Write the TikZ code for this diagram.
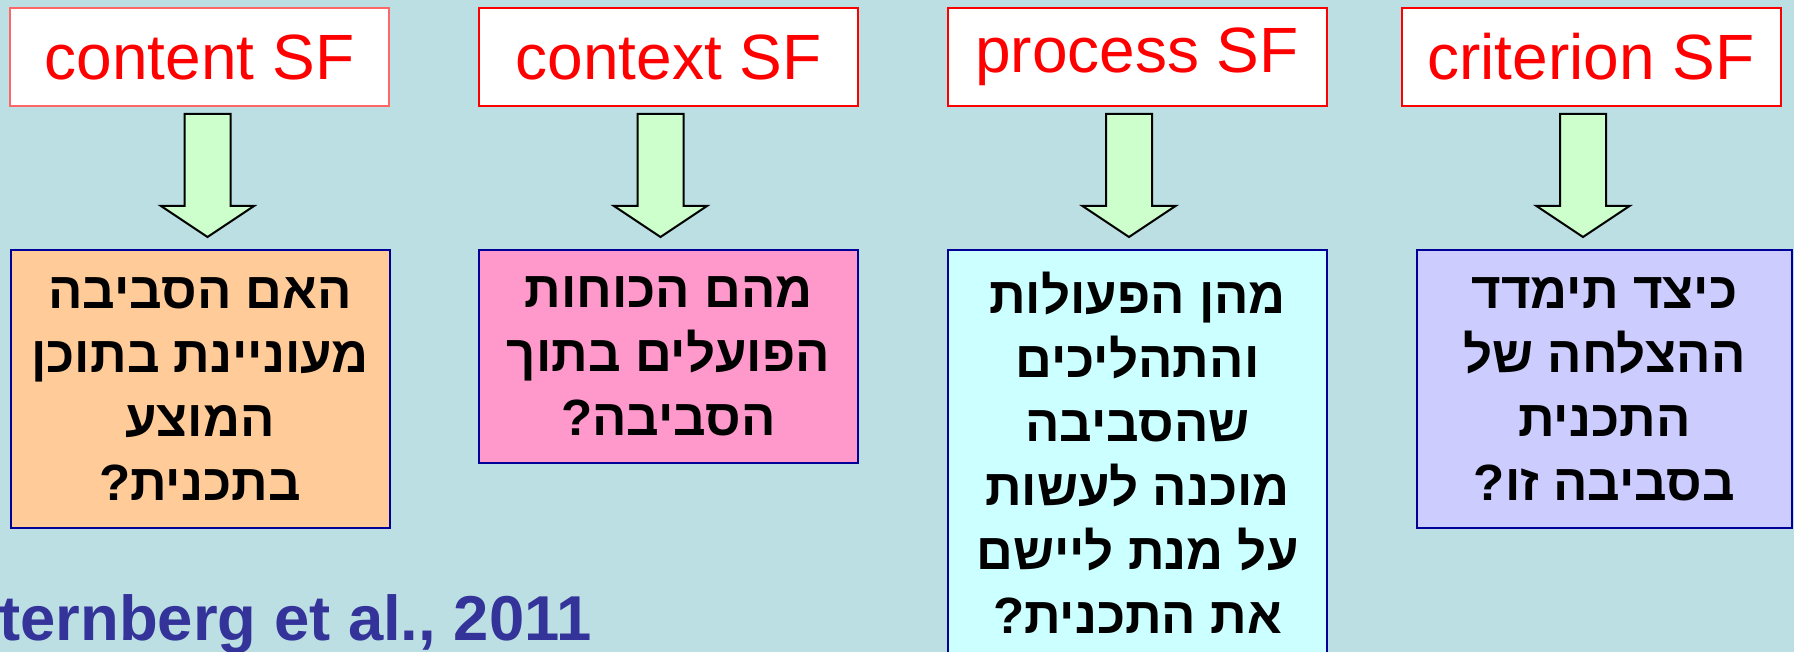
\documentclass[tikz,border=0pt]{standalone}
\usepackage{fontspec}
\setmainfont{Liberation Sans}
\newfontfamily\hebfont[Script=Hebrew]{Liberation Sans}
\TeXXeTstate=1
\usetikzlibrary{calc}
\definecolor{bgblue}{RGB}{187,223,226}
\definecolor{qblue}{RGB}{0,0,153}
\definecolor{qorange}{RGB}{255,204,153}
\definecolor{qpink}{RGB}{255,153,204}
\definecolor{qcyan}{RGB}{204,255,255}
\definecolor{qlilac}{RGB}{204,204,255}
\definecolor{arrowgreen}{RGB}{204,255,204}
\definecolor{citeblue}{RGB}{51,51,153}
\begin{document}
\begin{tikzpicture}[x=0.5pt,y=-0.5pt,
	sfbox/.style={draw=red,line width=1pt,fill=white,text=red,minimum width=189.5pt,minimum height=49pt,inner sep=0pt,font=\fontsize{32pt}{38pt}\selectfont},
	qbox/.style={draw=qblue,line width=1pt,inner sep=0pt,align=center,minimum width=189.5pt,font=\hebfont\bfseries\fontsize{25.5pt}{32pt}\selectfont},
	sfarrow/.style={draw=black,line width=1pt,fill=arrowgreen,line join=miter}]
	\useasboundingbox (0,0) rectangle (1794,652);
	\fill[bgblue] (0,0) rectangle (1794,652);
	\node[sfbox,draw=red!60] (c1) at (199.5,57) {content SF};
	\node[sfbox] (c2) at (668.5,57) {context SF};
	\node[sfbox] (c3) at (1137,57) {process SF};
	\node[sfbox] (c4) at (1591,57) {criterion SF};
	\node[qbox,fill=qorange,minimum height=139pt] (q1) at (200,389) {\beginR האם הסביבה\endR\\\beginR מעוניינת בתוכן\endR\\\beginR המוצע\endR\\\beginR בתכנית?\endR};
	\node[qbox,fill=qpink,minimum height=106.5pt] (q2) at (668.5,356.5) {\beginR מהם הכוחות\endR\\\beginR הפועלים בתוך\endR\\\beginR הסביבה?\endR};
	\node[qbox,fill=qcyan,minimum height=203pt] (q3) at (1137.5,453) {\beginR מהן הפעולות\endR\\\beginR והתהליכים\endR\\\beginR שהסביבה\endR\\\beginR מוכנה לעשות\endR\\\beginR על מנת ליישם\endR\\\beginR את התכנית?\endR};
	\node[qbox,fill=qlilac,minimum width=187.5pt,minimum height=139pt] (q4) at (1604.5,389) {\beginR כיצד תימדד\endR\\\beginR ההצלחה של\endR\\\beginR התכנית\endR\\\beginR בסביבה זו?\endR};
	\foreach \t/\b/\dx in {c1/q1/8,c2/q2/-8,c3/q3/-8,c4/q4/-8}{
		\path ($(\t.south)+(\dx,7)$) coordinate (s);
		\path ($(s |- \b.north)+(0,-12)$) coordinate (e);
		\draw[sfarrow] ($(s)+(-23,0)$) -- ($(e)+(-23,-31)$) -- ($(e)+(-46.5,-31)$) -- (e) -- ($(e)+(46.5,-31)$) -- ($(e)+(23,-31)$) -- ($(s)+(23,0)$) -- cycle;
	}
	\node[anchor=base west,inner sep=0pt,text=citeblue,font=\bfseries\fontsize{31.7pt}{36pt}\selectfont] (cite) at (-1,640) {ternberg et al., 2011};
\end{tikzpicture}
\end{document}
